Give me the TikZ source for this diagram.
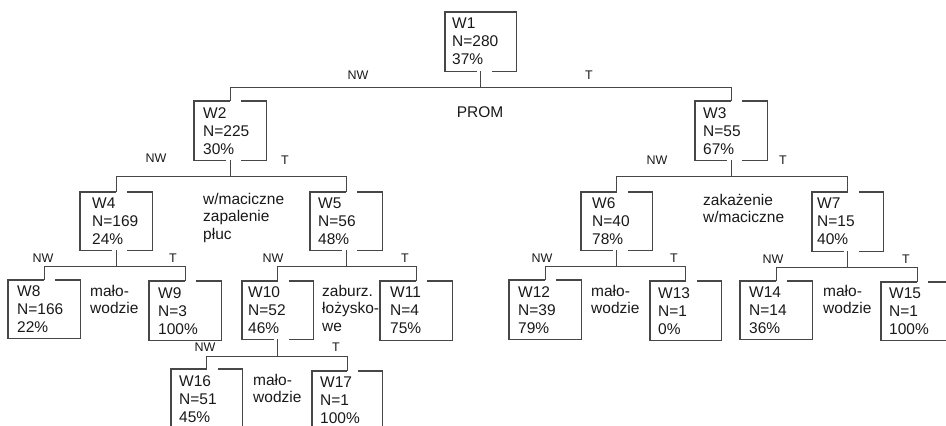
\documentclass[tikz,border=0pt]{standalone}
\usepackage{fontspec}
\setmainfont{Liberation Sans}
\usetikzlibrary{calc}
\tikzset{
  x=1pt, y=-1pt,
  boxline/.style={line width=1.1pt, draw=black!72},
  conn/.style={line width=1.1pt, draw=black!72},
  lbl/.style={font=\fontsize{12.5}{14}\selectfont, text=black!90, inner sep=0pt},
  side/.style={font=\fontsize{15.5}{17.5}\selectfont, text=black!90, inner sep=0pt, align=left, anchor=north west},
}
% name, left, right, top, bottom, margin, text
\newcommand\wb[7]{%
  \pgfmathsetmacro\wbtw{#3-#2-2*#6}%
  \pgfmathsetmacro\wbh{#5-#4}%
  \node[anchor=north west, inner sep=0pt, inner xsep=#6pt, text width=\wbtw pt,
        minimum height=\wbh pt, align=left, font=\fontsize{15.5}{18}\selectfont,
        text=black!90] (#1) at (#2,#4) {#7};}
% border: no top gap, bottom gap
\newcommand\bA[1]{%
  \draw[boxline] ($(#1.south)+(-4,0)$) -| (#1.north west) -| (#1.south east) -- ($(#1.south)+(11,0)$);}
% border: top gap, bottom gap
\newcommand\bB[1]{%
  \draw[boxline] (#1.north) -| (#1.south west) -- ($(#1.south)+(-4,0)$);
  \draw[boxline] ($(#1.north)+(11,0)$) -| (#1.south east) -- ($(#1.south)+(11,0)$);}
% border: top gap, no bottom gap
\newcommand\bC[1]{%
  \draw[boxline] (#1.north) -| (#1.south west) -- (#1.south east) |- ($(#1.north)+(11,0)$);}
\begin{document}
\begin{tikzpicture}
\useasboundingbox[fill=white] (0,0) rectangle (946,426);
\clip (0,0) rectangle (946,426);

% boxes
\wb{w1}{445}{516}{12}{71}{7}{W1\\N=280\\37\%}
\wb{w2}{194}{266}{101}{160}{9}{W2\\N=225\\30\%}
\wb{w3}{695}{767}{101}{160}{8}{W3\\N=55\\67\%}
\wb{w4}{80}{152}{192}{250}{12}{W4\\N=169\\24\%}
\wb{w5}{310}{382}{192}{250}{8}{W5\\N=56\\48\%}
\wb{w6}{581}{652}{192}{250}{11}{W6\\N=40\\78\%}
\wb{w7}{812}{883}{192}{251}{5}{W7\\N=15\\40\%}
\wb{w8}{8}{80}{280}{338}{9}{W8\\N=166\\22\%}
\wb{w9}{149}{221}{281}{340}{9}{W9\\N=3\\100\%}
\wb{w10}{242}{313}{281}{339}{6}{W10\\N=52\\46\%}
\wb{w11}{380}{452}{281}{340}{10}{W11\\N=4\\75\%}
\wb{w12}{509}{581}{280}{339}{9}{W12\\N=39\\79\%}
\wb{w13}{650}{721}{281}{340}{8}{W13\\N=1\\0\%}
\wb{w14}{740}{812}{281}{339}{9}{W14\\N=14\\36\%}
\wb{w15}{881}{953}{282}{340}{8}{W15\\N=1\\100\%}
\wb{w16}{171}{242}{369}{428}{8}{W16\\N=51\\45\%}
\wb{w17}{312}{382}{371}{430}{8}{W17\\N=1\\100\%}

% borders
\bA{w1}
\bB{w2}\bB{w3}\bB{w4}\bB{w5}\bB{w6}\bB{w7}\bB{w10}
\bC{w8}\bC{w9}\bC{w11}\bC{w12}\bC{w13}\bC{w14}\bC{w15}\bC{w16}\bC{w17}

% junctions and connectors
\coordinate (j1) at ($(w1.south)+(0,16)$);
\coordinate (j2) at ($(w2.south)+(0,16)$);
\coordinate (j3) at ($(w3.south)+(0,16)$);
\coordinate (j4) at ($(w4.south)+(0,16)$);
\coordinate (j5) at ($(w5.south)+(0,16)$);
\coordinate (j6) at ($(w6.south)+(0,16)$);
\coordinate (j7) at ($(w7.south)+(0,16)$);
\coordinate (j10) at ($(w10.south)+(0,17)$);
\draw[conn] (w1.south) -- (j1);  \draw[conn] (w2.north) |- (j1) -| (w3.north);
\draw[conn] (w2.south) -- (j2);  \draw[conn] (w4.north) |- (j2) -| (w5.north);
\draw[conn] (w3.south) -- (j3);  \draw[conn] (w6.north) |- (j3) -| (w7.north);
\draw[conn] (w4.south) -- (j4);  \draw[conn] (w8.north) |- (j4) -| (w9.north);
\draw[conn] (w5.south) -- (j5);  \draw[conn] (w10.north) |- (j5) -| (w11.north);
\draw[conn] (w6.south) -- (j6);  \draw[conn] (w12.north) |- (j6) -| (w13.north);
\draw[conn] (w7.south) -- (j7);  \draw[conn] (w14.north) |- (j7) -| (w15.north);
\draw[conn] (w10.south) -- (j10); \draw[conn] (w16.north) |- (j10) -| (w17.north);

% branch labels
\node[lbl] (nw1) at (358,75) {NW};  \node[lbl] (t1) at (589,75) {T};
\node[lbl] (nw2) at (156,158) {NW}; \node[lbl] (t2) at (285,160) {T};
\node[lbl] (nw3) at (657,160) {NW}; \node[lbl] (t3) at (783,160) {T};
\node[lbl] (nw4) at (43,258) {NW};  \node[lbl] (t4) at (173,258) {T};
\node[lbl] (nw5) at (273,258) {NW}; \node[lbl] (t5) at (405,258) {T};
\node[lbl] (nw6) at (542,258) {NW}; \node[lbl] (t6) at (674,258) {T};
\node[lbl] (nw7) at (773,259) {NW}; \node[lbl] (t7) at (906,259) {T};
\node[lbl] (nw10) at (205,347) {NW}; \node[lbl] (t10) at (336,347) {T};

% split variables
\node[font=\fontsize{15.5}{18}\selectfont, text=black!90, inner sep=0pt] (prom) at (480,112) {PROM};
\node[side] (s2) at (203,193) {w/maciczne\\zapalenie\\płuc};
\node[side] (s3) at (703,194) {zakażenie\\w/maciczne};
\node[side] (s4) at (90,285) {mało-\\wodzie};
\node[side] (s5) at (322,285) {zaburz.\\łożysko-\\we};
\node[side] (s6) at (591,285) {mało-\\wodzie};
\node[side] (s7) at (823,285) {mało-\\wodzie};
\node[side] (s10) at (253,374) {mało-\\wodzie};
\end{tikzpicture}
\end{document}
